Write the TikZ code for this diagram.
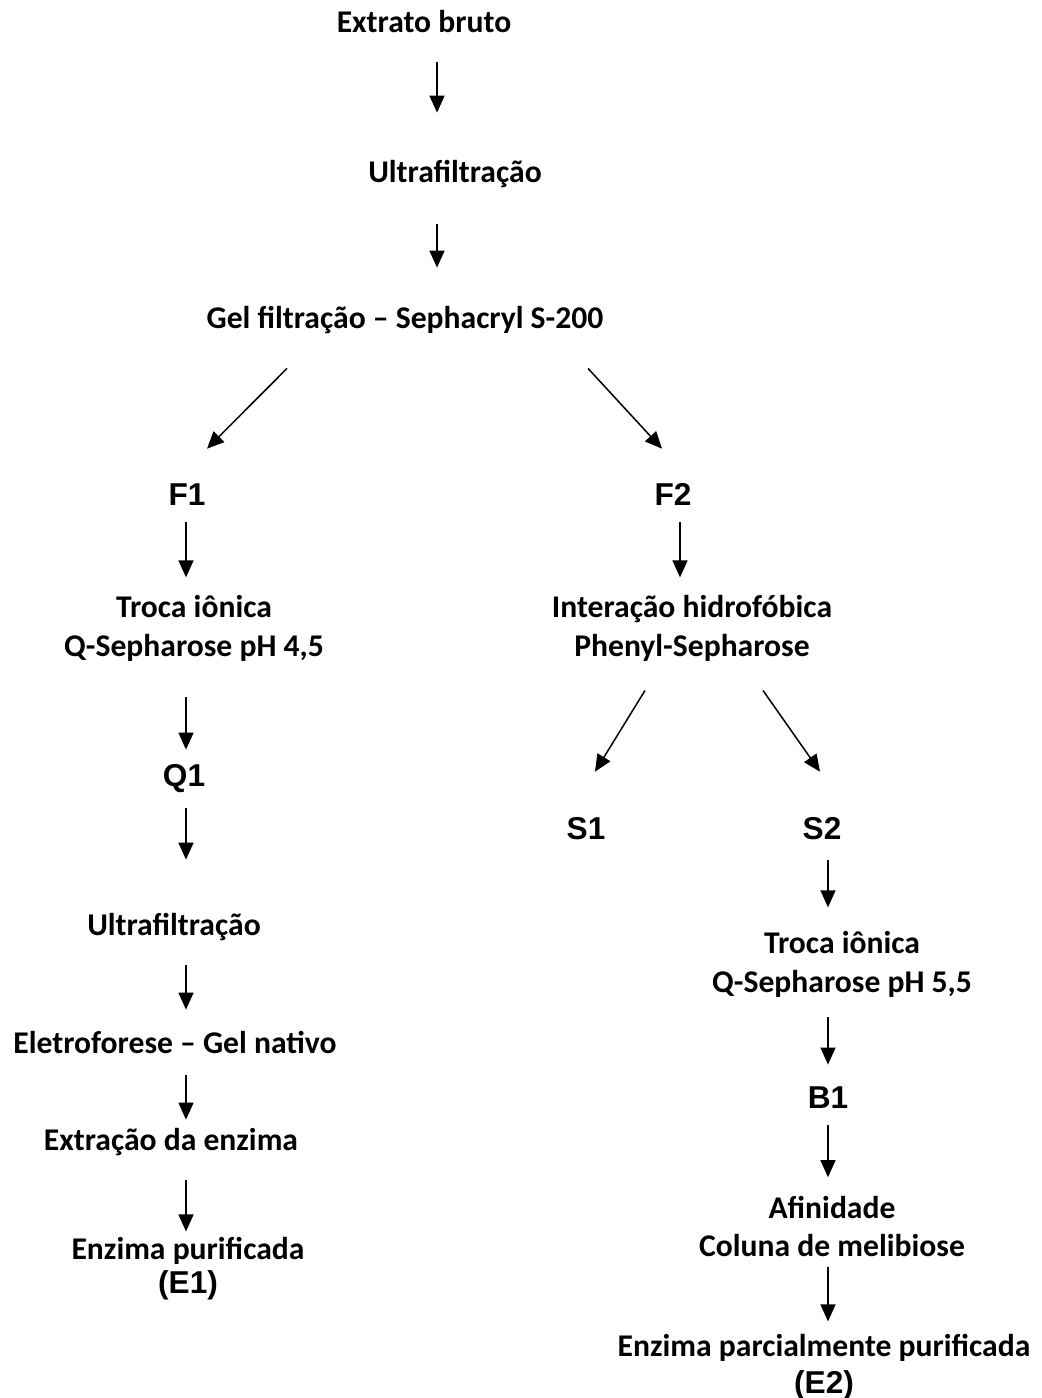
\documentclass[tikz,border=0pt]{standalone}
\usepackage{fontspec}
\setmainfont{Carlito}
\newfontfamily\labelfont{Liberation Sans}
\usetikzlibrary{arrows.meta, calc}

\begin{document}
\begin{tikzpicture}[
  x=0.02cm, y=-0.02cm,
  stage/.style={font=\fontsize{18}{22}\selectfont\bfseries, align=center, inner sep=0pt, text height=14pt, text depth=4.5pt},
  stagetwo/.style={font=\fontsize{18}{22}\selectfont\bfseries, align=center, inner sep=0pt},
  fracbox/.style={font=\labelfont\fontsize{18}{22}\selectfont\bfseries, inner sep=0pt, text height=14pt, text depth=4.5pt},
  flow/.style={-{Triangle[length=3.4mm, width=3mm]}, line width=0.3mm},
]
\useasboundingbox (0,0) rectangle (1041,1398);
\coordinate (colmain) at (437,0);
\coordinate (colleft) at (186,0);
\coordinate (colright) at (680,0);
\coordinate (colfar) at (828,0);

\node[stage] (extrato) at (424,23.7) {Extrato bruto};
\node[stage] (ultraA) at (455,173.7) {Ultrafiltração};
\node[stage] (gel) at (405,319.7) {Gel filtração – Sephacryl S-200};
\node[fracbox] (F1) at (187,496.7) {F1};
\node[fracbox] (F2) at (673,496.7) {F2};
\node[stagetwo] (trocaA) at (194,628.1) {Troca iônica\\Q-Sepharose pH 4,5};
\node[stagetwo] (inter) at (692,628.1) {Interação hidrofóbica\\Phenyl-Sepharose};
\node[fracbox] (Q1) at (184,777.7) {Q1};
\node[fracbox] (S1) at (586,830.7) {S1};
\node[fracbox] (S2) at (822,830.7) {S2};
\node[stage] (ultraB) at (174,926.7) {Ultrafiltração};
\node[stagetwo] (trocaB) at (842,964.1) {Troca iônica\\Q-Sepharose pH 5,5};
\node[stage] (eletro) at (175,1044.7) {Eletroforese – Gel nativo};
\node[fracbox] (B1) at (828,1099.7) {B1};
\node[stage] (extracao) at (171,1141.7) {Extração da enzima};
\node[stagetwo] (afin) at (832,1226.6) {Afinidade\\Coluna de melibiose};
\node[stagetwo] (enzA) at (188,1268.6) {Enzima purificada\\[-2.7pt]{\labelfont (E1)}};
\node[stagetwo] (enzB) at (824,1367.1) {Enzima parcialmente purificada\\[-1pt]{\labelfont (E2)}};

\draw[flow, shorten <=4.4mm, shorten >=8.9mm] (extrato.south -| colmain) -- (ultraA.north -| colmain);
\draw[flow, shorten <=6.8mm, shorten >=7.1mm] (ultraA.south -| colmain) -- (gel.north -| colmain);
\draw[flow] ($(gel.south)+(-118,32.1)$) -- ($(F1.north)+(20,-31.4)$);
\draw[flow] ($(gel.south)+(183,32.1)$) -- ($(F2.north)+(-11,-31.4)$);
\draw[flow, shorten <=1.8mm, shorten >=3.5mm] (F1.south -| colleft) -- (trocaA.north -| colleft);
\draw[flow, shorten <=1.8mm, shorten >=3.5mm] (F2.south -| colright) -- (inter.north -| colright);
\draw[flow, shorten <=7.2mm, shorten >=2.3mm] (trocaA.south -| colleft) -- (Q1.north -| colleft);
\draw[flow] ($(inter.south)+(-47,29.1)$) -- ($(S1.north)+(9,-42.4)$);
\draw[flow] ($(inter.south)+(71,29.1)$) -- ($(S2.north)+(-2,-42.4)$);
\draw[flow, shorten <=2.8mm, shorten >=10.1mm] (Q1.south -| colleft) -- (ultraB.north -| colleft);
\draw[flow, shorten <=4.4mm, shorten >=3.7mm] (ultraB.south -| colleft) -- (eletro.north -| colleft);
\draw[flow, shorten <=2.8mm, shorten >=1.1mm] (eletro.south -| colleft) -- (extracao.north -| colleft);
\draw[flow, shorten <=4.4mm, shorten >=1.1mm] (extracao.south -| colleft) -- (enzA.north -| colleft);
\draw[flow, shorten <=2.6mm, shorten >=4.7mm] (S2.south -| colfar) -- (trocaB.north -| colfar);
\draw[flow, shorten <=4mm, shorten >=3.7mm] (trocaB.south -| colfar) -- (B1.north -| colfar);
\draw[flow, shorten <=1.8mm, shorten >=3.7mm] (B1.south -| colfar) -- (afin.north -| colfar);
\draw[flow, shorten <=1.8mm, shorten >=2.5mm] (afin.south -| colfar) -- (enzB.north -| colfar);
\end{tikzpicture}
\end{document}
